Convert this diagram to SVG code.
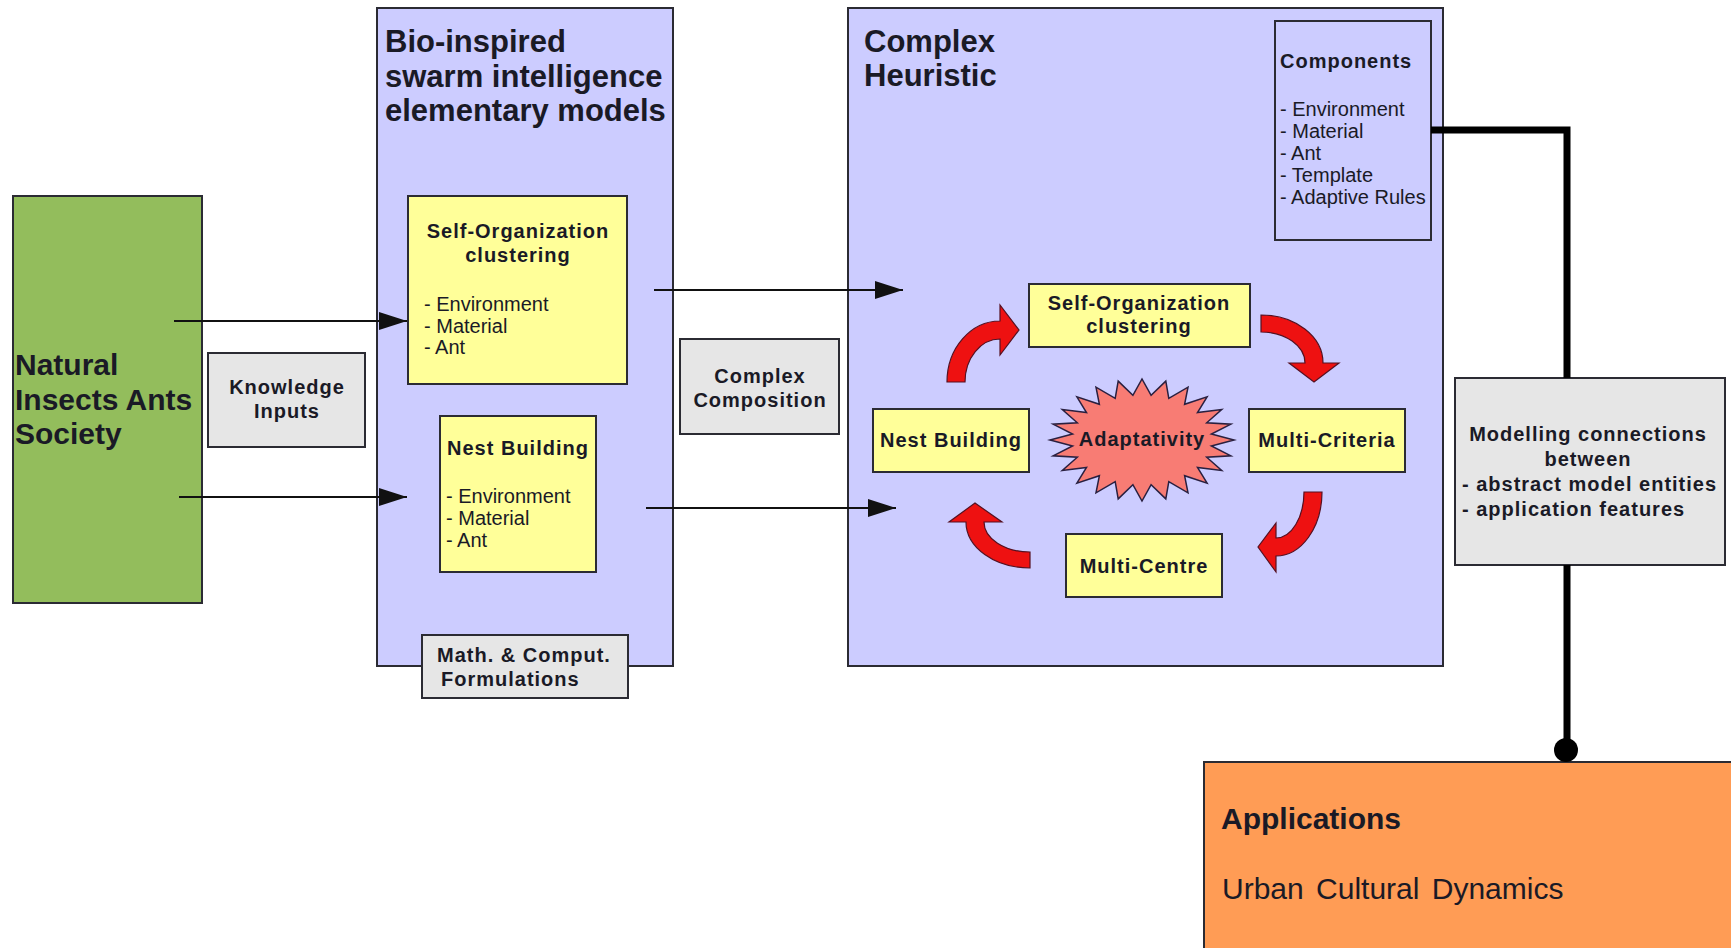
<svg xmlns="http://www.w3.org/2000/svg" width="1731" height="948" viewBox="0 0 1731 948">
<defs>
<style>
.box{stroke:#2b2b33;stroke-width:2}
.lav{fill:#ccccff}
.yel{fill:#ffff99}
.gry{fill:#e6e6e6}
.t{font-family:"Liberation Sans",Arial,sans-serif;fill:#1a1a26}
.title{font-size:31px;font-weight:bold}
.lbl{font-size:20px;font-weight:bold;letter-spacing:1px}
.itm{font-size:20px}
.big{font-size:30px;font-weight:bold}
.red{fill:#ee1111;stroke:#551122;stroke-width:1.2}
.thin{stroke:#111;stroke-width:2;fill:none}
</style>
<marker id="ah" markerUnits="userSpaceOnUse" markerWidth="28" markerHeight="18" refX="28" refY="9" orient="auto">
<path d="M0 0 L28 9 L0 18 Z" fill="#111"/>
</marker>
</defs>
<rect width="1731" height="948" fill="#fff"/>

<g id="natural">
<rect class="box" x="13" y="196" width="189" height="407" fill="#93bd5c"/>
<text class="t big" x="15" y="375" fill="#18220f">Natural</text>
<text class="t big" x="15" y="410">Insects Ants</text>
<text class="t big" x="15" y="444">Society</text>
</g>

<g id="knowledge">
<rect class="box gry" x="208" y="353" width="157" height="94"/>
<text class="t lbl" x="287" y="394" text-anchor="middle">Knowledge</text>
<text class="t lbl" x="287" y="418" text-anchor="middle">Inputs</text>
</g>

<g id="bio">
<rect class="box lav" x="377" y="8" width="296" height="658"/>
<text class="t title" x="385" y="52">Bio-inspired</text>
<text class="t title" x="385" y="87">swarm intelligence</text>
<text class="t title" x="385" y="121">elementary models</text>
</g>

<g id="bio-selforg">
<rect class="box yel" x="408" y="196" width="219" height="188"/>
<text class="t lbl" x="518" y="238" text-anchor="middle">Self-Organization</text>
<text class="t lbl" x="518" y="262" text-anchor="middle">clustering</text>
<text class="t itm" x="424" y="311">- Environment</text>
<text class="t itm" x="424" y="333">- Material</text>
<text class="t itm" x="424" y="354">- Ant</text>
</g>

<g id="bio-nest">
<rect class="box yel" x="440" y="416" width="156" height="156"/>
<text class="t lbl" x="518" y="455" text-anchor="middle">Nest Building</text>
<text class="t itm" x="446" y="503">- Environment</text>
<text class="t itm" x="446" y="525">- Material</text>
<text class="t itm" x="446" y="547">- Ant</text>
</g>

<g id="math">
<rect class="box gry" x="422" y="635" width="206" height="63"/>
<text class="t lbl" x="437" y="662">Math. &amp; Comput.</text>
<text class="t lbl" x="441" y="686">Formulations</text>
</g>

<g id="composition">
<rect class="box gry" x="680" y="339" width="159" height="95"/>
<text class="t lbl" x="760" y="383" text-anchor="middle">Complex</text>
<text class="t lbl" x="760" y="407" text-anchor="middle">Composition</text>
</g>

<g id="heuristic">
<rect class="box lav" x="848" y="8" width="595" height="658"/>
<text class="t title" x="864" y="52">Complex</text>
<text class="t title" x="864" y="86">Heuristic</text>
</g>

<g id="components">
<rect class="box lav" x="1275" y="21" width="156" height="219"/>
<text class="t lbl" x="1280" y="68">Components</text>
<text class="t itm" x="1280" y="116">- Environment</text>
<text class="t itm" x="1280" y="138">- Material</text>
<text class="t itm" x="1280" y="160">- Ant</text>
<text class="t itm" x="1280" y="182">- Template</text>
<text class="t itm" x="1280" y="204">- Adaptive Rules</text>
</g>

<g id="cycle-selforg">
<rect class="box yel" x="1029" y="284" width="221" height="63"/>
<text class="t lbl" x="1139" y="310" text-anchor="middle">Self-Organization</text>
<text class="t lbl" x="1139" y="333" text-anchor="middle">clustering</text>
</g>

<g id="cycle-nest">
<rect class="box yel" x="873" y="409" width="156" height="63"/>
<text class="t lbl" x="951" y="447" text-anchor="middle">Nest Building</text>
</g>

<g id="cycle-criteria">
<rect class="box yel" x="1249" y="409" width="156" height="63"/>
<text class="t lbl" x="1327" y="447" text-anchor="middle">Multi-Criteria</text>
</g>

<g id="cycle-centre">
<rect class="box yel" x="1066" y="534" width="156" height="63"/>
<text class="t lbl" x="1144" y="573" text-anchor="middle">Multi-Centre</text>
</g>

<g id="adaptativity">
<polygon fill="#f87c74" stroke="#2a2040" stroke-width="1.5" points="1234,440 1211.4,445.9 1230.9,455.8 1206.7,457.2 1221.7,470.5 1197.5,467.4 1207.1,483.1 1184.6,475.7 1188,492.8 1168.8,481.6 1165.8,498.9 1151.1,484.6 1142,501 1132.9,484.6 1118.2,498.9 1115.2,481.6 1096,492.8 1099.4,475.7 1076.9,483.1 1086.5,467.4 1062.3,470.5 1077.3,457.2 1053.1,455.8 1072.6,445.9 1050,440 1072.6,434.1 1053.1,424.2 1077.3,422.8 1062.3,409.5 1086.5,412.6 1076.9,396.9 1099.4,404.3 1096,387.2 1115.2,398.4 1118.2,381.1 1132.9,395.4 1142,379 1151.1,395.4 1165.8,381.1 1168.8,398.4 1188,387.2 1184.6,404.3 1207.1,396.9 1197.5,412.6 1221.7,409.5 1206.7,422.8 1230.9,424.2 1211.4,434.1"/>
<text class="t lbl" x="1142" y="446" text-anchor="middle" fill="#4a1212">Adaptativity</text>
</g>

<g id="cycle-arrows">
<path class="red" d="M947 382 A53 61 0 0 1 1000 321 L1000 305 L1019 330 L1000 355 L1000 339 A35 43 0 0 0 965 382 Z"/>
<path class="red" d="M1261 315 A62 48 0 0 1 1323 363 L1339 363 L1314 382 L1289 363 L1305 363 A44 31 0 0 0 1261 332 Z"/>
<path class="red" d="M1322 492 A46 64 0 0 1 1276 556 L1276 572 L1258 547 L1276 523 L1276 538 A28 46 0 0 0 1304 492 Z"/>
<path class="red" d="M1030 568 A64 46 0 0 1 966 522 L949 522 L975 503 L1002 522 L984 522 A46 30 0 0 0 1030 552 Z"/>
</g>

<g id="modelling">
<rect class="box gry" x="1455" y="378" width="270" height="187"/>
<text class="t lbl" x="1588" y="441" text-anchor="middle">Modelling connections</text>
<text class="t lbl" x="1588" y="466" text-anchor="middle">between</text>
<text class="t lbl" x="1462" y="491">- abstract model entities</text>
<text class="t lbl" x="1462" y="516">- application features</text>
</g>

<g id="applications">
<rect class="box" x="1204" y="762" width="540" height="200" fill="#ff9c55"/>
<text class="t big" x="1221" y="829" fill="#1f1408">Applications</text>
<text class="t" x="1222" y="899" font-size="30" word-spacing="4" fill="#2a1a08">Urban Cultural Dynamics</text>
</g>

<g id="connectors">
<line class="thin" x1="174" y1="321" x2="407" y2="321" marker-end="url(#ah)"/>
<line class="thin" x1="179" y1="497" x2="407" y2="497" marker-end="url(#ah)"/>
<line class="thin" x1="654" y1="290" x2="903" y2="290" marker-end="url(#ah)"/>
<line class="thin" x1="646" y1="508" x2="896" y2="508" marker-end="url(#ah)"/>
<polyline points="1431,130 1567,130 1567,378" fill="none" stroke="#000" stroke-width="7"/>
<line x1="1567" y1="565" x2="1567" y2="750" stroke="#000" stroke-width="7"/>
<circle cx="1566" cy="750" r="12" fill="#000"/>
</g>
</svg>
